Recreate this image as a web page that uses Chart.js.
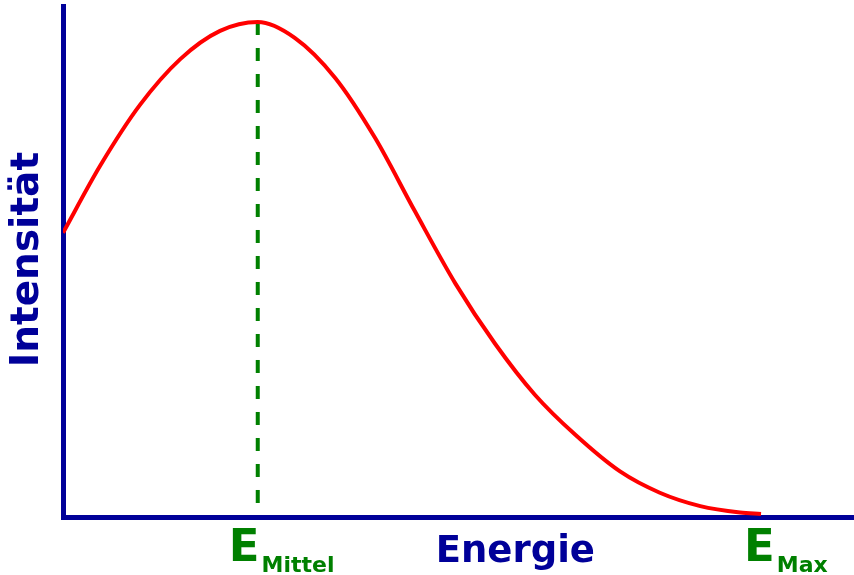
<!DOCTYPE html>
<html>
<head>
<meta charset="utf-8">
<script src="https://cdn.jsdelivr.net/npm/chart.js@4.4.0/dist/chart.umd.min.js"></script>
<style>
  html, body { margin: 0; padding: 0; background: #fff; }
  canvas { display: block; }
</style>
</head>
<body>
<canvas id="chart" width="854" height="575"></canvas>
<script>
// energy as fraction of E_Max, intensity as fraction of the peak
const energy = [0, 0.053, 0.110, 0.168, 0.225, 0.279, 0.332, 0.390, 0.447, 0.504,
  0.562, 0.619, 0.676, 0.734, 0.798, 0.855, 0.913, 0.970, 1.0];
const intensity = [0.574, 0.709, 0.832, 0.925, 0.982, 1.0, 0.968, 0.887, 0.766, 0.618,
  0.472, 0.350, 0.247, 0.166, 0.092, 0.049, 0.022, 0.009, 0.006];

const markerValues = [0.279, 1.0];
const markerMain = ['E', 'E'];
const markerSub = ['Mittel', 'Max'];

const xTitle = 'Energie';
const yTitle = 'Intensität';

const BLUE = '#000099';
const GREEN = '#008000';
const RED = '#ff0000';
const FONT = '"DejaVu Sans", Verdana, sans-serif';

const chartCanvas = document.getElementById('chart');

// draws E_Mittel / E_Max and the two axis titles
const textPlugin = {
  id: 'axisText',
  afterDraw(chart) {
    const { ctx, scales: { x, y } } = chart;
    const shift = { Mittel: -29, Max: -17 };
    ctx.save();
    ctx.textBaseline = 'alphabetic';
    ctx.textAlign = 'left';
    ctx.fillStyle = GREEN;
    markerValues.forEach((v, i) => {
      const x0 = x.getPixelForValue(v) + shift[markerSub[i]];
      ctx.font = 'bold 45px ' + FONT;
      ctx.fillText(markerMain[i], x0, y.bottom + 44);
      const w = ctx.measureText(markerMain[i]).width;
      ctx.font = 'bold 22px ' + FONT;
      ctx.fillText(markerSub[i], x0 + w + 2, y.bottom + 55);
    });

    ctx.fillStyle = BLUE;
    ctx.textAlign = 'center';
    ctx.font = 'bold 37px ' + FONT;
    ctx.fillText(xTitle, x.getPixelForValue(0.648), y.bottom + 45);

    ctx.translate(38, y.getPixelForValue(0.52));
    ctx.rotate(-Math.PI / 2);
    ctx.font = 'bold 39px ' + FONT;
    ctx.fillText(yTitle, 0, 0);
    ctx.restore();
  },
};

new Chart(chartCanvas, {
  type: 'line',
  data: {
    datasets: [
      {
        data: energy.map((e, i) => ({ x: e, y: intensity[i] })),
        borderColor: RED,
        borderWidth: 4,
        pointRadius: 0,
        cubicInterpolationMode: 'monotone',
        order: 0,
      },
      {
        data: [
          { x: markerValues[0], y: 1.0 },
          { x: markerValues[0], y: 0.01 },
        ],
        borderColor: GREEN,
        borderWidth: 4,
        borderDash: [13, 13],
        pointRadius: 0,
        order: 1,
      },
    ],
  },
  plugins: [textPlugin],
  options: {
    responsive: false,
    animation: false,
    devicePixelRatio: 1,
    layout: { padding: { left: 63, right: 0, top: 6, bottom: 58 } },
    plugins: { legend: { display: false }, tooltip: { enabled: false } },
    scales: {
      x: {
        type: 'linear',
        min: 0,
        max: 1.1332,
        grid: { display: false, drawTicks: false },
        ticks: { display: false },
        border: { display: true, color: BLUE, width: 5 },
      },
      y: {
        min: 0,
        max: 1.0323,
        grid: { display: false, drawTicks: false },
        ticks: { display: false },
        border: { display: true, color: BLUE, width: 5 },
      },
    },
  },
});
</script>
</body>
</html>
